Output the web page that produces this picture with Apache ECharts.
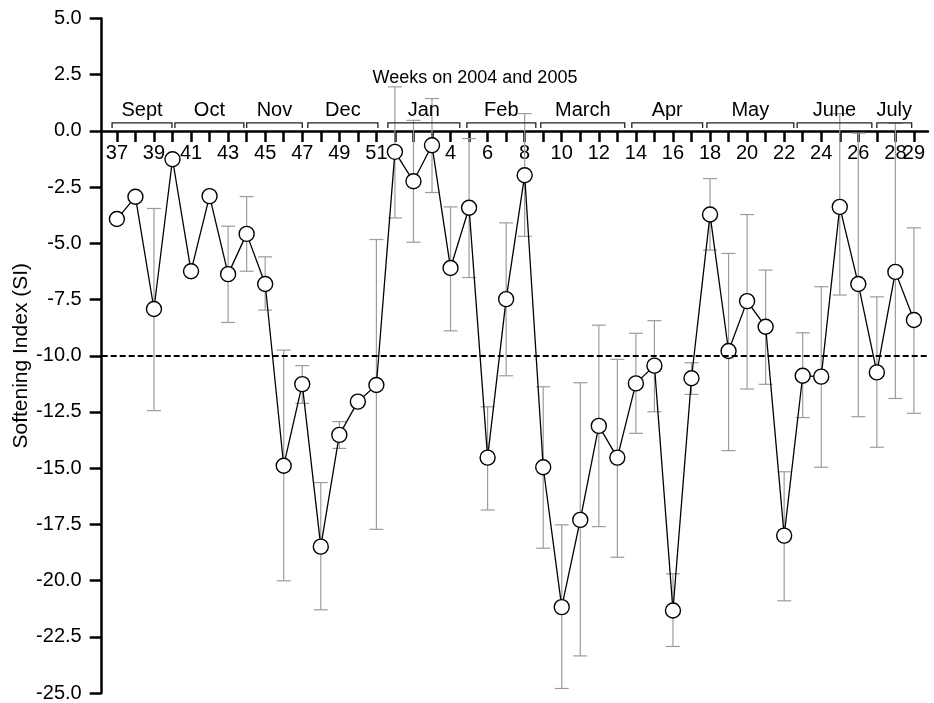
<!DOCTYPE html>
<html>
<head>
<meta charset="utf-8">
<script src="https://cdn.jsdelivr.net/npm/echarts@6/dist/echarts.min.js"></script>
<style>html,body{margin:0;padding:0;background:#fff;}#c{width:934px;height:703px;}</style>
</head>
<body>
<div id="c"></div>
<script>
// Week categories (2004: 37-51, 2005: 1-29)
const weeks = ["37","38","39","40","41","42","43","44","45","46","47","48","49","50","51",
  "1","2","3","4","5","6","7","8","9","10","11","12","13","14","15","16","17","18","19","20",
  "21","22","23","24","25","26","27","28","29"];
// Softening index per week
const siValues = [-3.92,-2.93,-7.92,-1.26,-6.24,-2.90,-6.37,-4.58,-6.81,-14.89,-11.26,-18.49,-13.52,-12.04,-11.30,
  -0.93,-2.24,-0.64,-6.10,-3.42,-14.53,-7.48,-1.97,-14.96,-21.18,-17.30,-13.12,-14.53,-11.23,-10.44,-21.33,-11.00,
  -3.72,-9.79,-7.57,-8.71,-18.00,-10.89,-10.93,-3.38,-6.81,-10.74,-6.27,-8.41];
// Error bar lower / upper bounds (null = no bar)
const errLow = [null,null,-12.44,null,null,null,-8.52,-6.24,-7.97,-20.01,-12.12,-21.30,-14.12,null,-17.72,
  -3.87,-4.95,-2.74,-8.89,-6.52,-16.86,-10.89,-4.69,-18.56,-24.8,-23.35,-17.60,-18.96,-13.45,-12.49,-22.93,-11.72,
  -5.30,-14.22,-11.48,-11.27,-20.9,-12.75,-14.96,-7.30,-12.71,-14.07,-11.90,-12.56];
const errHigh = [null,null,-3.45,null,null,null,-4.24,-2.92,-5.60,-9.75,-10.44,-15.64,-12.93,null,-4.83,
  1.96,0.47,1.44,-3.38,-0.34,-12.27,-4.09,0.77,-11.38,-17.52,-11.20,-8.64,-10.16,-9.00,-8.44,-19.70,-10.31,
  -2.12,-5.45,-3.72,-6.19,-15.16,-8.98,-6.93,0.77,-0.10,-7.38,0.34,-4.31];
// Labelled weeks on the x axis
const labelWeeks = ["37","39","41","43","45","47","49","51","4","6","8","10","12","14","16","18","20","22","24","26","28"];
const lastLabelWeek = "29";
// Month brackets: name, start and end position (in week-index units)
const monthNames = ["Sept","Oct","Nov","Dec","Jan","Feb","March","Apr","May","June","July"];
const monthStart = [-0.26,3.13,7.0,10.3,14.62,18.88,22.87,27.78,31.83,36.7,41.0];
const monthEnd   = [2.97,6.85,10.0,14.08,18.5,22.6,27.4,31.6,36.52,40.73,42.88];
// Reference threshold
const threshold = -10;
// Y axis ticks
const yMin = -25, yMax = 5, yStep = 2.5;

const FONT = "Liberation Sans, Arial, sans-serif";
const labelIdx = labelWeeks.map(w => weeks.indexOf(w));
const idx = weeks.map((w, i) => i);

const lineData = siValues.map((v, i) => [i, v]);
const errData = [];
errLow.forEach((lo, i) => { if (lo !== null && errHigh[i] !== null) errData.push([i, lo, errHigh[i]]); });
const monthData = monthNames.map((m, i) => [monthStart[i], monthEnd[i], m]);

const GRID_TOP = 18.5, GRID_BOTTOM = 10;
const plotH = 703 - GRID_TOP - GRID_BOTTOM;
const zeroOffsetBottom = -plotH * (0 - yMin) / (yMax - yMin);
const zeroOffsetTop = -plotH * (yMax - 0) / (yMax - yMin);
const X_MIN = -0.82, X_MAX = 43.76;

const chart = echarts.init(document.getElementById('c'), null, {renderer: 'canvas'});
chart.setOption({
  animation: false,
  backgroundColor: '#fff',
  title: {
    text: 'Weeks on 2004 and 2005',
    left: 470, top: 64, textAlign: 'center',
    textStyle: {fontFamily: FONT, fontSize: 18, fontWeight: 'normal', color: '#000'}
  },
  grid: {left: 101.7, right: 6, top: GRID_TOP, bottom: GRID_BOTTOM, containLabel: false, outerBoundsMode: 'none'},
  xAxis: [{
    type: 'value', min: X_MIN, max: X_MAX, position: 'bottom', offset: zeroOffsetBottom,
    splitLine: {show: false},
    axisLine: {onZero: false, lineStyle: {color: '#000', width: 2.5}},
    axisTick: {show: true, customValues: idx, length: 11, lineStyle: {color: '#000', width: 2.5}},
    axisLabel: {
      customValues: labelIdx, margin: 13, hideOverlap: false,
      formatter: v => weeks[Math.round(v)],
      fontFamily: FONT, fontSize: 20, color: '#000'
    }
  }, {
    type: 'value', min: X_MIN, max: X_MAX, position: 'top', offset: zeroOffsetTop,
    splitLine: {show: false},
    axisLine: {show: false, onZero: false},
    axisTick: {show: false},
    axisLabel: {
      customValues: [weeks.indexOf(lastLabelWeek)], inside: true, margin: 13,
      formatter: v => weeks[Math.round(v)],
      fontFamily: FONT, fontSize: 20, color: '#000'
    }
  }],
  yAxis: {
    type: 'value', min: yMin, max: yMax, interval: yStep, position: 'left',
    name: 'Softening Index (SI)', nameLocation: 'middle', nameGap: 70, nameMoveOverlap: false,
    nameTextStyle: {fontFamily: FONT, fontSize: 21, color: '#000'},
    splitLine: {show: false},
    axisLine: {show: true, onZero: false, lineStyle: {color: '#000', width: 2.5}},
    axisTick: {show: true, length: 12, lineStyle: {color: '#000', width: 2.5}},
    axisLabel: {margin: 20, formatter: v => v.toFixed(1), fontFamily: FONT, fontSize: 20, color: '#000'}
  },
  series: [
    {
      type: 'custom', name: 'err', z: 1, data: errData, xAxisIndex: 0,
      renderItem: function (params, api) {
        const x = api.value(0);
        const p1 = api.coord([x, api.value(1)]);
        const p2 = api.coord([x, api.value(2)]);
        const hw = 7;
        const st = {stroke: '#9c9c9c', lineWidth: 1.2};
        return {type: 'group', children: [
          {type: 'line', shape: {x1: p1[0], y1: p1[1], x2: p2[0], y2: p2[1]}, style: st},
          {type: 'line', shape: {x1: p1[0]-hw, y1: p1[1], x2: p1[0]+hw, y2: p1[1]}, style: st},
          {type: 'line', shape: {x1: p2[0]-hw, y1: p2[1], x2: p2[0]+hw, y2: p2[1]}, style: st}
        ]};
      }
    },
    {
      type: 'line', name: 'SI', z: 3, data: lineData, xAxisIndex: 0,
      symbol: 'circle', symbolSize: 15, showAllSymbol: true,
      lineStyle: {color: '#000', width: 1.3},
      itemStyle: {color: '#fff', borderColor: '#000', borderWidth: 1.4},
      markLine: {
        silent: true, symbol: ['none', 'none'], label: {show: false},
        lineStyle: {color: '#000', type: [6, 3], width: 2},
        data: [{yAxis: threshold}]
      }
    },
    {
      type: 'custom', name: 'months', z: 2, data: monthData, xAxisIndex: 0,
      renderItem: function (params, api) {
        const a = api.coord([api.value(0), 0]);
        const b = api.coord([api.value(1), 0]);
        const y0 = a[1];
        return {type: 'group', children: [
          {type: 'polyline', shape: {points: [[a[0], y0-3], [a[0], y0-8], [b[0], y0-8], [b[0], y0-3]]},
           style: {stroke: '#222', lineWidth: 1.3, fill: null}},
          {type: 'text', x: (a[0]+b[0])/2, y: y0-10,
           style: {text: monthData[params.dataIndex][2], fontFamily: FONT, fontSize: 20, fill: '#000',
                   align: 'center', verticalAlign: 'bottom'}}
        ]};
      }
    }
  ]
});
</script>
</body>
</html>
